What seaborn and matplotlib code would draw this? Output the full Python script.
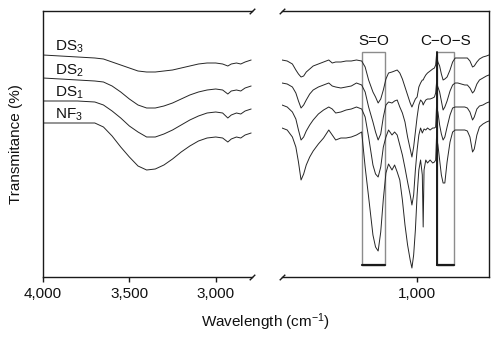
import matplotlib
matplotlib.use("Agg")
import matplotlib.pyplot as plt
import seaborn as sns
import pandas as pd
from matplotlib.patches import Rectangle

# ---------------- data ----------------
samples = ["DS3", "DS2", "DS1", "NF3"]
sample_labels = ["DS$_3$", "DS$_2$", "DS$_1$", "NF$_3$"]

wn_left = [4000, 3900, 3800, 3700, 3650, 3600, 3550, 3500, 3450, 3400, 3350, 3300,
           3250, 3200, 3150, 3100, 3050, 3000, 2960, 2930, 2910, 2880, 2855, 2830, 2795]
ds3_left = [222, 221, 220, 219, 218, 215, 212, 209, 206, 205, 205, 206,
            207, 209, 211, 213, 214, 214, 213, 211, 213, 214, 213, 215, 217]
ds2_left = [199, 198, 197, 196, 195, 191, 185, 178, 172, 169, 169, 171,
            174, 178, 182, 185, 187, 188, 187, 183, 186, 187, 186, 189, 191]
ds1_left = [176, 176, 176, 175, 172, 166, 159, 151, 145, 140, 140, 143,
            147, 152, 157, 161, 164, 165, 164, 159, 162, 164, 163, 166, 168]
nf3_left = [154, 154, 154, 154, 150, 141, 130, 120, 111, 107, 108, 112,
            118, 125, 131, 136, 139, 140, 139, 135, 138, 140, 139, 142, 144]

wn_right = [1780, 1750, 1720, 1700, 1685, 1670, 1655, 1640, 1620, 1600, 1570, 1540,
            1510, 1490, 1470, 1440, 1410, 1380, 1350, 1320, 1300, 1280, 1255, 1240,
            1225, 1210, 1195, 1180, 1165, 1145, 1130, 1115, 1100, 1085, 1070, 1055,
            1040, 1030, 1020, 1010, 1000, 990, 980, 970, 965, 960, 950, 940,
            925, 910, 900, 893, 888, 880, 870, 860, 850, 840, 827, 810,
            795, 780, 765, 745, 725, 710, 695, 680, 670, 655, 640, 620, 600, 585]
ds3_right = [217, 216, 213, 207, 203, 200, 201, 205, 208, 211, 213, 215,
             217, 214, 215, 215, 216, 216, 217, 216, 210, 197, 185, 180,
             174, 178, 187, 198, 204, 205, 206, 207, 204, 198, 190, 182,
             174, 170, 174, 178, 180, 190, 194, 197, 197, 199, 202, 204,
             206, 208, 209, 212, 222, 215, 211, 203, 197, 198, 200, 207,
             215, 219, 219, 219, 219, 219, 216, 210, 211, 215, 218, 220, 221, 222]
ds2_right = [194, 193, 190, 184, 176, 169, 172, 177, 183, 187, 190, 192,
             194, 191, 190, 189, 190, 191, 194, 192, 185, 170, 155, 145,
             137, 143, 160, 172, 175, 174, 176, 177, 170, 164, 155, 140,
             128, 120, 130, 145, 160, 172, 177, 175, 172, 174, 177, 178,
             178, 179, 180, 184, 194, 190, 185, 176, 167, 170, 176, 186,
             192, 194, 194, 193, 192, 192, 189, 184, 186, 193, 197, 199, 201, 202]
ds1_right = [172, 170, 165, 158, 147, 137, 140, 146, 152, 157, 163, 167,
             170, 168, 164, 165, 167, 168, 170, 168, 160, 140, 112, 103,
             100, 110, 130, 140, 147, 142, 145, 142, 132, 122, 109, 95,
             82, 72, 82, 107, 127, 142, 149, 144, 146, 148, 147, 149,
             147, 149, 149, 150, 170, 165, 152, 143, 137, 140, 150, 162,
             169, 170, 170, 170, 170, 169, 165, 157, 160, 168, 171, 172, 174, 175]
nf3_right = [149, 147, 140, 130, 115, 97, 103, 112, 120, 126, 133, 139,
             147, 142, 137, 139, 139, 140, 142, 145, 110, 80, 42, 30,
             26, 45, 78, 104, 113, 107, 112, 105, 97, 77, 52, 32,
             17, 9, 22, 47, 82, 107, 117, 102, 50, 107, 117, 114,
             117, 114, 115, 117, 140, 132, 117, 102, 94, 94, 115, 135,
             145, 147, 147, 147, 147, 146, 140, 125, 128, 142, 150, 153, 155, 156]

left_ticks = [4000, 3500, 3000]
left_ticklabels = ["4,000", "3,500", "3,000"]
right_ticks = [1000]
right_ticklabels = ["1,000"]

band_names = ["S=O", "C\u2212O\u2212S"]
band_ranges = [(1317, 1184), (885, 787)]

# ---------------- style ----------------
sns.set_theme(style="white")
plt.rcParams["font.family"] = ["Liberation Sans", "DejaVu Sans"]
plt.rcParams["mathtext.fontset"] = "custom"
plt.rcParams["mathtext.rm"] = "Liberation Sans"
plt.rcParams["mathtext.it"] = "Liberation Sans:italic"
plt.rcParams["mathtext.bf"] = "Liberation Sans:bold"
plt.rcParams["mathtext.default"] = "regular"

def frame(wn, series):
    rows = []
    for name, vals in zip(samples, series):
        for x, y in zip(wn, vals):
            rows.append({"wn": x, "T": y, "sample": name})
    return pd.DataFrame(rows)

df_left = frame(wn_left, [ds3_left, ds2_left, ds1_left, nf3_left])
df_right = frame(wn_right, [ds3_right, ds2_right, ds1_right, nf3_right])

fig = plt.figure(figsize=(4.99, 3.38), dpi=100)
W, H = 499.0, 338.0
y0, y1 = 277.0, 11.0
axL = fig.add_axes([43 / W, 1 - y0 / H, (252 - 43) / W, (y0 - y1) / H])
axR = fig.add_axes([282 / W, 1 - y0 / H, (489 - 282) / W, (y0 - y1) / H])

pal = {s: "#262626" for s in samples}
for ax, df in [(axL, df_left), (axR, df_right)]:
    sns.lineplot(data=df, x="wn", y="T", hue="sample", palette=pal,
                 estimator=None, sort=True, linewidth=0.7, legend=False, ax=ax)
    ax.set_ylim(0, 266)
    ax.set_yticks([])
    ax.set_xlabel("")
    ax.set_ylabel("")
    for sp in ax.spines.values():
        sp.set_color("#1a1a1a")
        sp.set_linewidth(1.0)
    ax.tick_params(axis="x", direction="out", length=3.5, width=1.0,
                   color="#1a1a1a", pad=3.5, labelsize=11, labelcolor="#111111",
                   bottom=True)

axL.set_xlim(4000, 2790)
axR.set_xlim(1780, 585)
axL.spines["right"].set_visible(False)
axR.spines["left"].set_visible(False)
axL.set_xticks(left_ticks)
axL.set_xticklabels(left_ticklabels)
axR.set_xticks(right_ticks)
axR.set_xticklabels(right_ticklabels)

# break marks
kw = dict(marker=[(-1, -1), (1, 1)], markersize=4, linestyle="none",
          color="#1a1a1a", mec="#1a1a1a", mew=1, clip_on=False)
axL.plot([1, 1], [0, 1], transform=axL.transAxes, **kw)
axR.plot([0, 0], [0, 1], transform=axR.transAxes, **kw)

# sample labels
label_base = [226, 202, 180, 158]
for lab, yb in zip(sample_labels, label_base):
    axL.text(3930, yb, lab, fontsize=11, color="#111111", ha="left", va="baseline")

# band boxes
for (xa, xb), name in zip(band_ranges, band_names):
    axR.add_patch(Rectangle((xb, 12.5), xa - xb, 225 - 12.5, fill=False,
                            edgecolor="#8c8c8c", linewidth=1.0, zorder=1))
    axR.plot([xa, xb], [12.5, 12.5], color="#1a1a1a", linewidth=1.6, zorder=3)
    axR.text((xa + xb) / 2, 232, name, fontsize=11, color="#111111",
             ha="center", va="baseline")
axR.plot([885, 885], [12.5, 225], color="#1a1a1a", linewidth=1.4, zorder=3)

fig.text(16 / W, 1 - 144 / H, "Transmitance (%)", rotation=90, fontsize=11,
         color="#111111", ha="center", va="center")
fig.text(266 / W, 1 - 322 / H, "Wavelength (cm$^{-1}$)", fontsize=11,
         color="#111111", ha="center", va="center")

fig.savefig("out.png", dpi=100)
